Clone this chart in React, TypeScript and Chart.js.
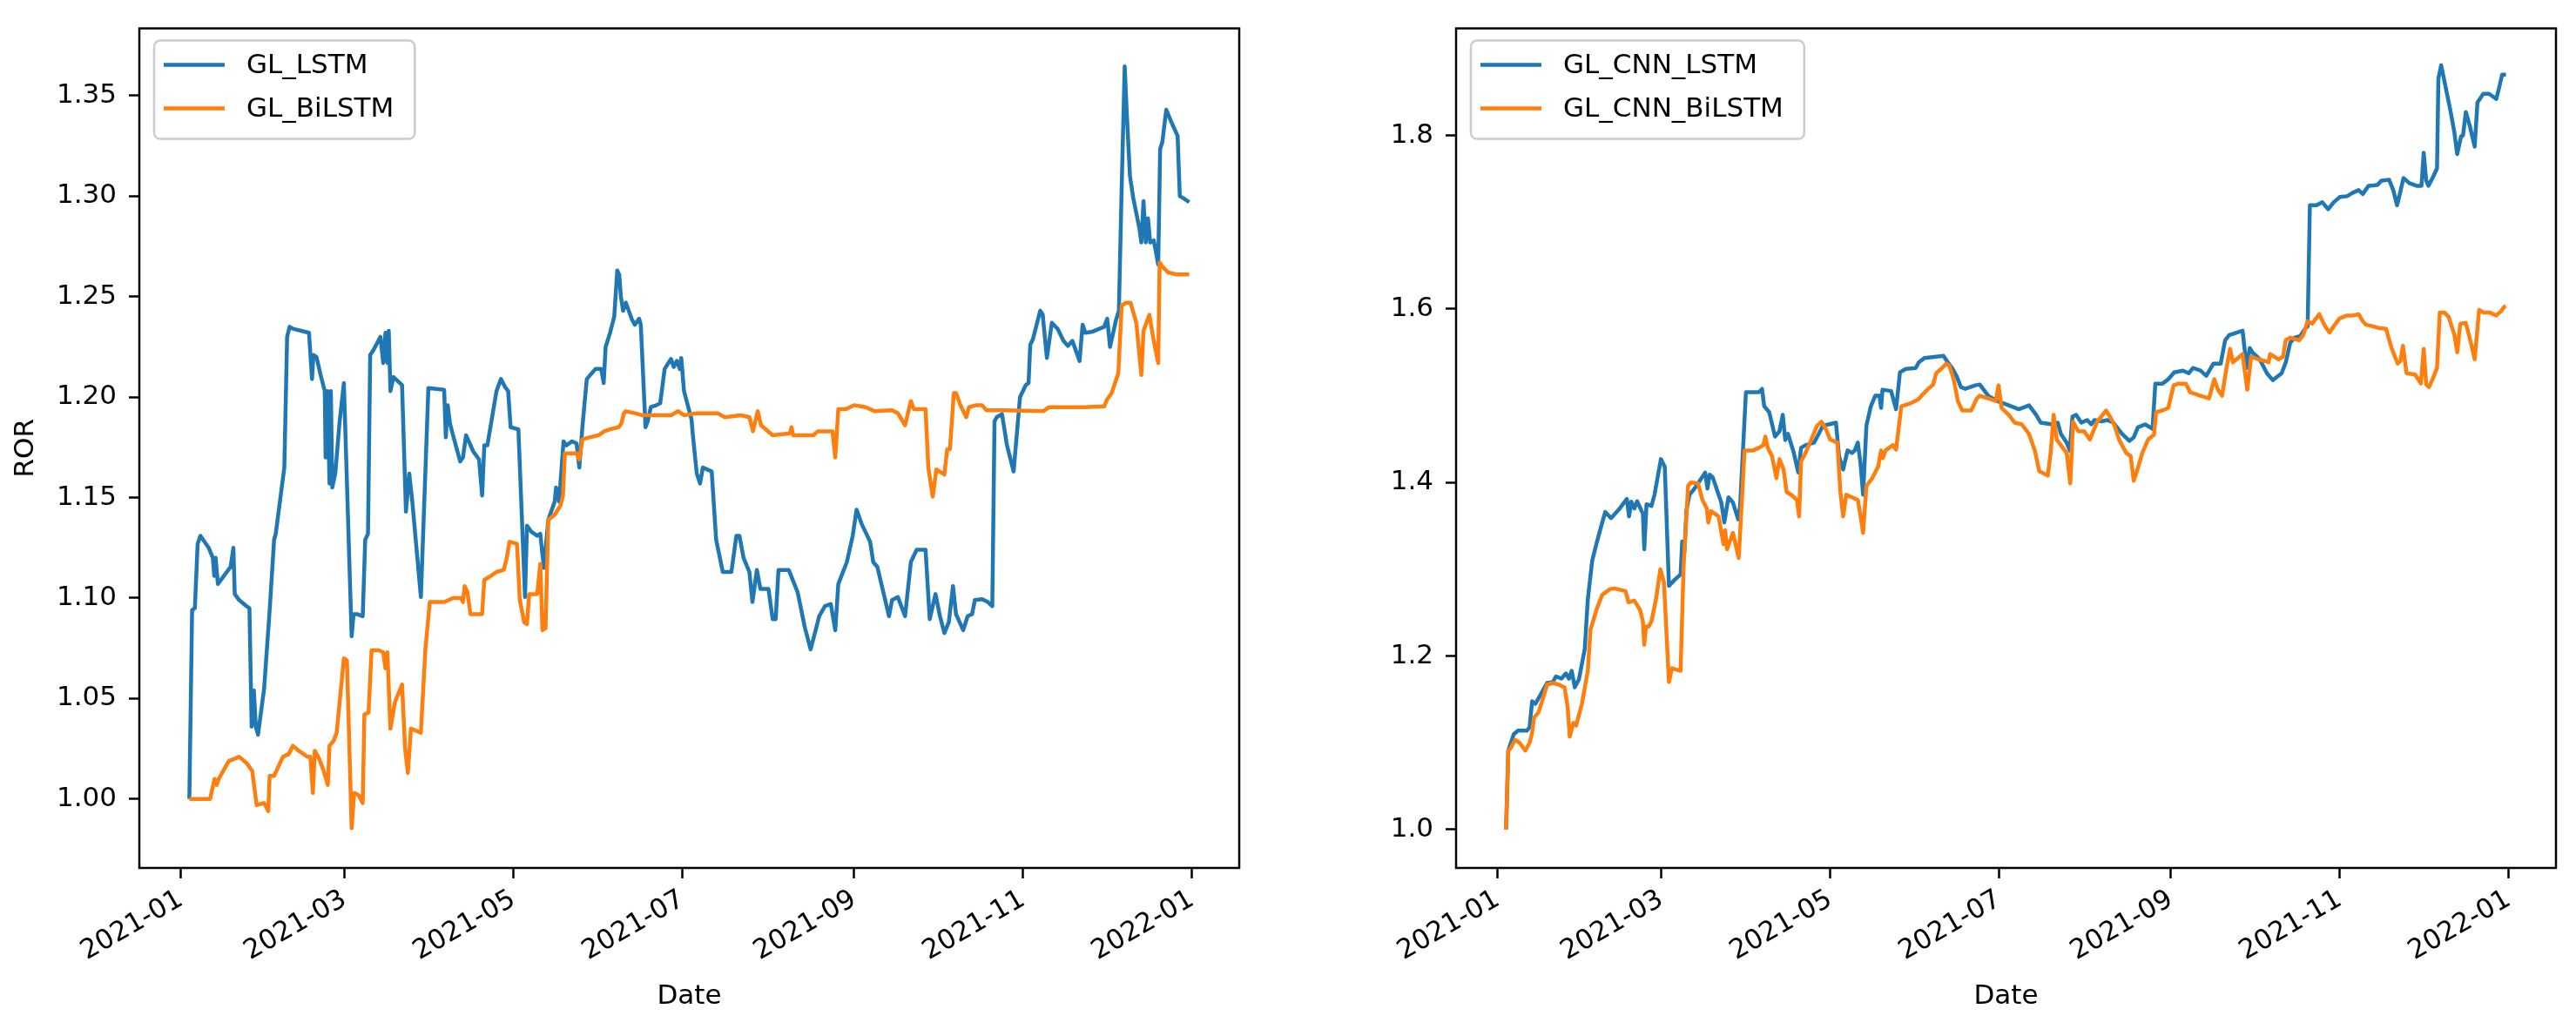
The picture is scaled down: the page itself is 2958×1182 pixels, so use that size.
import React, { useEffect, useRef } from "react";
import { Chart, registerables } from "chart.js";

Chart.register(...registerables);

// ---------- data (x = days since 2021-01-01) ----------
const xTickDays = [0, 59, 120, 181, 243, 304, 365];
const xTickLabels = ["2021-01", "2021-03", "2021-05", "2021-07", "2021-09", "2021-11", "2022-01"];

const leftYTicks = [1.0, 1.05, 1.1, 1.15, 1.2, 1.25, 1.3, 1.35];
const rightYTicks = [1.0, 1.2, 1.4, 1.6, 1.8];

const lstmDays = [3, 4, 5, 6, 7, 10, 11.5, 12, 12.5, 13.3, 17.9, 18.9, 19.4, 21, 23.6, 24.7, 25.5, 26.3, 27, 27.8, 30, 32, 33.6, 34.2, 37.3, 38.3, 39.2, 40.4, 46.2, 47.3, 47.8, 48.9, 50.4, 51.9, 52.2, 52.9, 53.6, 54.1, 54.6, 55.7, 57.2, 58.8, 61.6, 62.3, 63.5, 65.6, 66.5, 67.5, 68.3, 69.3, 72, 73, 73.8, 74.5, 75, 75.6, 76.7, 79.8, 81.2, 82.4, 83.5, 86.6, 89.3, 95, 95.6, 96.3, 97.1, 98.2, 100.8, 101.8, 102.9, 103.9, 105.5, 107.6, 108.7, 109.5, 110.6, 113.9, 115.5, 117, 118.1, 119, 121.8, 124.2, 124.9, 126.5, 128.6, 129.7, 131, 132.6, 134.9, 135.4, 136.5, 138.1, 139.1, 141.2, 142.8, 143.8, 144.9, 146.5, 149.6, 151.7, 152.6, 153.3, 154.9, 156.4, 157.5, 158.2, 158.8, 159.6, 160.6, 162.7, 163.8, 165.4, 166, 167.7, 168.5, 169.6, 171.7, 173, 174.6, 176.9, 177.9, 179, 180.1, 180.6, 181.6, 184.3, 184.8, 186.2, 187.4, 188.4, 191.6, 193.2, 195.6, 198.7, 200.5, 201.6, 203.1, 205.2, 206.3, 207.9, 209.2, 212.1, 213.6, 214.7, 215.7, 219.4, 222.6, 225.2, 227.3, 229.4, 230.4, 232.5, 234.6, 236.2, 237.3, 240.4, 242.5, 243.9, 245.7, 248.8, 249.9, 251.4, 255.6, 256.7, 258.8, 261.4, 263.5, 265.6, 268.8, 270.3, 272.4, 274, 275.6, 277.2, 278.7, 279.8, 282.4, 284, 285.6, 286.6, 289.2, 291.3, 292.9, 293.7, 294.5, 296.4, 298.2, 300.6, 302.9, 305, 306, 306.6, 307.6, 310.2, 311.1, 312.6, 314.4, 316.5, 318.6, 320.2, 321.8, 324.4, 325.5, 326.5, 329.1, 333.3, 334.4, 335.4, 337.5, 338.6, 339.6, 340.7, 341.5, 342.6, 343.8, 346, 346.7, 347.5, 348.3, 349.1, 349.9, 351.2, 352.8, 353.5, 354.3, 355.7, 357.5, 359.8, 360.6, 361.9, 364];
const lstmValues = [1.0, 1.094, 1.095, 1.127, 1.131, 1.125, 1.12, 1.111, 1.12, 1.107, 1.1155, 1.125, 1.102, 1.099, 1.096, 1.095, 1.036, 1.054, 1.036, 1.032, 1.055, 1.094, 1.129, 1.132, 1.165, 1.23, 1.235, 1.234, 1.232, 1.209, 1.221, 1.22, 1.211, 1.203, 1.17, 1.203, 1.157, 1.203, 1.155, 1.162, 1.187, 1.207, 1.081, 1.092, 1.092, 1.091, 1.129, 1.132, 1.221, 1.223, 1.23, 1.217, 1.232, 1.217, 1.233, 1.203, 1.21, 1.206, 1.143, 1.162, 1.148, 1.1005, 1.2045, 1.2036, 1.18, 1.196, 1.187, 1.181, 1.168, 1.17, 1.181, 1.178, 1.173, 1.169, 1.151, 1.176, 1.176, 1.203, 1.209, 1.205, 1.203, 1.185, 1.184, 1.1005, 1.136, 1.133, 1.131, 1.132, 1.115, 1.139, 1.148, 1.155, 1.148, 1.178, 1.176, 1.178, 1.177, 1.165, 1.185, 1.209, 1.214, 1.214, 1.207, 1.225, 1.232, 1.24, 1.263, 1.261, 1.25, 1.243, 1.247, 1.239, 1.236, 1.239, 1.236, 1.185, 1.188, 1.195, 1.196, 1.197, 1.214, 1.219, 1.215, 1.218, 1.214, 1.2195, 1.203, 1.189, 1.181, 1.162, 1.157, 1.165, 1.163, 1.129, 1.113, 1.113, 1.131, 1.131, 1.12, 1.113, 1.098, 1.114, 1.1045, 1.1045, 1.0895, 1.0895, 1.114, 1.114, 1.103, 1.0855, 1.0745, 1.0855, 1.091, 1.096, 1.097, 1.084, 1.107, 1.118, 1.131, 1.144, 1.137, 1.128, 1.118, 1.1155, 1.091, 1.099, 1.1005, 1.091, 1.118, 1.124, 1.124, 1.0895, 1.102, 1.091, 1.0826, 1.088, 1.106, 1.092, 1.084, 1.091, 1.092, 1.099, 1.0995, 1.098, 1.096, 1.188, 1.19, 1.1916, 1.176, 1.163, 1.2, 1.206, 1.207, 1.226, 1.229, 1.243, 1.241, 1.2195, 1.237, 1.234, 1.228, 1.2255, 1.228, 1.218, 1.236, 1.232, 1.2326, 1.235, 1.239, 1.225, 1.238, 1.243, 1.304, 1.3646, 1.34, 1.31, 1.299, 1.284, 1.277, 1.2975, 1.277, 1.289, 1.277, 1.278, 1.266, 1.3235, 1.327, 1.343, 1.337, 1.33, 1.3, 1.299, 1.297];

const bilstmDays = [3, 10.5, 12.1, 12.9, 13.6, 17.3, 18.4, 21, 23.6, 25.7, 27.3, 30, 31.5, 32, 33.6, 36.8, 38.9, 40.4, 42.5, 45.7, 46.7, 47.6, 48.3, 49.9, 51.5, 53, 53.6, 55.1, 56.2, 58.8, 59.9, 61.6, 62.5, 64.1, 65.6, 66.2, 67.7, 68.8, 71.4, 73, 73.8, 74.5, 75.6, 77.2, 79.8, 80.9, 81.9, 83, 86.6, 88.2, 89.8, 95, 96.6, 98.2, 101.1, 101.8, 102.4, 103.4, 104.5, 108.7, 109.5, 111.8, 113.9, 116.5, 117.6, 118.6, 121.3, 122.3, 123.9, 124.9, 125.7, 128.6, 129.7, 130.5, 131.6, 132.6, 134.9, 137, 137.9, 138.6, 142.8, 143.8, 144.9, 147.5, 150.7, 152.8, 154.9, 158, 159, 159.9, 160.6, 163.8, 166.4, 176.9, 179.5, 181.6, 186.3, 193.7, 196.3, 202.1, 205.2, 206.5, 208.2, 209.4, 213.6, 219.9, 220.4, 221, 228.3, 229.9, 235.2, 236.2, 237.3, 240, 243, 247.2, 250.4, 256.7, 258.8, 261.4, 263.5, 264.6, 268.8, 269.8, 271.4, 272.7, 275.6, 276.6, 277.6, 279, 279.8, 281.4, 283.5, 284.5, 287.1, 289.2, 290.8, 296.6, 311.3, 313.4, 326, 333.3, 334.4, 336, 338.4, 339.6, 341.2, 342.8, 344.9, 346.7, 347.5, 349.6, 351.2, 352.8, 353.3, 354.3, 356.4, 359.6, 364];
const bilstmValues = [1.0, 1.0, 1.01, 1.007, 1.01, 1.019, 1.0195, 1.021, 1.018, 1.014, 0.997, 0.998, 0.994, 1.0115, 1.0115, 1.021, 1.0224, 1.0265, 1.024, 1.021, 1.021, 1.003, 1.024, 1.02, 1.014, 1.007, 1.0265, 1.029, 1.033, 1.07, 1.069, 0.9855, 1.003, 1.002, 0.998, 1.042, 1.043, 1.074, 1.074, 1.073, 1.065, 1.073, 1.035, 1.048, 1.057, 1.025, 1.013, 1.035, 1.033, 1.074, 1.098, 1.098, 1.099, 1.1, 1.1, 1.098, 1.106, 1.103, 1.092, 1.092, 1.109, 1.111, 1.113, 1.114, 1.12, 1.128, 1.127, 1.099, 1.088, 1.087, 1.102, 1.102, 1.117, 1.084, 1.085, 1.139, 1.1415, 1.146, 1.151, 1.172, 1.172, 1.169, 1.179, 1.18, 1.181, 1.183, 1.184, 1.185, 1.187, 1.192, 1.193, 1.192, 1.191, 1.191, 1.193, 1.191, 1.192, 1.192, 1.19, 1.191, 1.19, 1.183, 1.193, 1.186, 1.181, 1.182, 1.185, 1.181, 1.181, 1.183, 1.183, 1.17, 1.194, 1.194, 1.196, 1.195, 1.193, 1.1935, 1.192, 1.186, 1.198, 1.194, 1.194, 1.165, 1.1505, 1.164, 1.1615, 1.174, 1.174, 1.202, 1.202, 1.196, 1.19, 1.195, 1.196, 1.196, 1.1935, 1.1935, 1.193, 1.195, 1.195, 1.1954, 1.199, 1.202, 1.212, 1.2455, 1.247, 1.247, 1.237, 1.211, 1.233, 1.241, 1.228, 1.217, 1.267, 1.265, 1.262, 1.261, 1.261];

const cnnLstmDays = [3, 3.8, 5.8, 7.3, 10.5, 11.5, 12.4, 13.6, 15.2, 17.8, 19.9, 21, 23, 24.6, 25.7, 26.7, 27.8, 29.3, 31.4, 32.5, 34.1, 35.6, 37.2, 38.8, 40.9, 44, 46.6, 47.4, 48.2, 49.3, 50.3, 52.4, 52.9, 53.7, 55.5, 56.6, 58.9, 60.3, 61.8, 63.9, 66, 66.6, 67.4, 68.1, 69.2, 70.8, 72.3, 74.9, 75.7, 76.5, 77.6, 79.1, 80.7, 81.8, 83.3, 84.9, 86.8, 87.5, 89.6, 94.3, 95.4, 96.2, 98, 100.1, 101.7, 102.9, 103.8, 104.8, 106.9, 108.5, 109.5, 111.1, 114.2, 117.4, 119.5, 122.1, 123.2, 124.7, 126.3, 127.9, 128.9, 130, 131, 131.9, 133.1, 134.7, 136.3, 137.8, 138.4, 138.9, 142, 143.8, 145.2, 147.3, 150.9, 152, 154.1, 158.3, 160.9, 162.5, 164, 165.6, 167.2, 168.8, 172.4, 174, 177.1, 180.3, 184.5, 188.1, 191.8, 194.4, 196, 200.2, 202.2, 203.3, 205.4, 206.5, 207.5, 208.8, 210.7, 212.8, 214.3, 215.4, 218, 220.1, 222.2, 225.4, 228, 229.6, 231.1, 233.7, 236.4, 237.4, 240, 242.1, 244.2, 247.4, 249.5, 251, 253.7, 255.8, 258.4, 261, 262.6, 264.1, 268.9, 270.4, 271.5, 272.5, 275.1, 277.7, 279.8, 283, 284.5, 286.1, 287.7, 289.8, 291.4, 292.4, 293.2, 295.6, 297.7, 299.8, 301.8, 304, 306.6, 308.7, 310.8, 312.3, 314.4, 317.6, 319.1, 321.8, 323.3, 324.7, 326, 327, 329.1, 331.7, 333.5, 334.3, 335.2, 336, 337.5, 339.1, 339.6, 340.6, 342.2, 343.8, 345.3, 346.4, 347.8, 348.5, 349.5, 350.9, 352.7, 353.7, 355.8, 357.9, 360.5, 361.6, 362.6, 364];
const cnnLstmValues = [1.0, 1.091, 1.11, 1.114, 1.114, 1.118, 1.148, 1.145, 1.154, 1.169, 1.17, 1.1765, 1.174, 1.18, 1.174, 1.183, 1.164, 1.173, 1.208, 1.265, 1.31, 1.329, 1.348, 1.366, 1.359, 1.37, 1.381, 1.361, 1.378, 1.37, 1.3785, 1.364, 1.323, 1.375, 1.373, 1.386, 1.427, 1.418, 1.281, 1.288, 1.294, 1.332, 1.32, 1.367, 1.386, 1.392, 1.399, 1.4115, 1.393, 1.409, 1.406, 1.392, 1.377, 1.354, 1.383, 1.377, 1.3575, 1.373, 1.504, 1.504, 1.508, 1.488, 1.481, 1.453, 1.459, 1.478, 1.449, 1.456, 1.434, 1.4115, 1.44, 1.443, 1.446, 1.4655, 1.467, 1.469, 1.4305, 1.415, 1.437, 1.434, 1.437, 1.446, 1.421, 1.386, 1.4655, 1.488, 1.5, 1.5, 1.486, 1.507, 1.5055, 1.4845, 1.527, 1.531, 1.532, 1.5385, 1.5436, 1.545, 1.546, 1.5385, 1.532, 1.523, 1.51, 1.508, 1.512, 1.513, 1.5, 1.494, 1.489, 1.4845, 1.489, 1.478, 1.469, 1.467, 1.469, 1.456, 1.446, 1.437, 1.476, 1.478, 1.469, 1.472, 1.467, 1.472, 1.4705, 1.472, 1.469, 1.456, 1.448, 1.452, 1.4636, 1.467, 1.462, 1.514, 1.514, 1.519, 1.527, 1.529, 1.526, 1.532, 1.529, 1.523, 1.537, 1.537, 1.564, 1.57, 1.575, 1.532, 1.555, 1.55, 1.542, 1.526, 1.518, 1.526, 1.5385, 1.561, 1.567, 1.569, 1.577, 1.58, 1.7195, 1.7195, 1.723, 1.715, 1.723, 1.729, 1.73, 1.734, 1.737, 1.7325, 1.742, 1.743, 1.748, 1.749, 1.737, 1.7195, 1.737, 1.751, 1.745, 1.742, 1.742, 1.78, 1.748, 1.742, 1.751, 1.762, 1.8655, 1.881, 1.856, 1.831, 1.805, 1.7785, 1.799, 1.8, 1.827, 1.8115, 1.787, 1.838, 1.848, 1.848, 1.842, 1.856, 1.87, 1.87];

const cnnBilstmDays = [3, 3.8, 4.7, 6.3, 7.9, 9.95, 11.5, 12.3, 13.1, 14.7, 16.2, 17.8, 19.9, 22, 24.1, 25.2, 26, 27.3, 28.3, 30.4, 32.5, 33.5, 35.6, 37.7, 40.4, 42, 46.1, 47.2, 49.3, 51.4, 52.4, 52.9, 53.5, 54.5, 55.5, 57.1, 58.7, 60, 61.8, 62.9, 66, 67.1, 68.7, 69.7, 72.3, 73.9, 75.5, 76, 77, 79.7, 81.5, 82.1, 82.8, 84.9, 87, 89.1, 92.2, 94.3, 95.9, 96.6, 97.5, 99, 100.6, 101.7, 103.2, 104.3, 105.9, 108, 108.8, 109.5, 111.1, 113.2, 115.3, 116.9, 118.4, 120, 122.6, 123.7, 124.7, 125.8, 127.9, 130, 131, 131.9, 133.1, 135.2, 137.3, 138.4, 139, 140, 142.6, 143.8, 145.7, 148.8, 151.5, 153, 155.1, 157.2, 158.3, 160.4, 162, 163, 164.6, 166.1, 167.7, 170.9, 173, 174, 177.1, 179.8, 180.8, 181.9, 184.5, 186.6, 189.2, 191.8, 193.9, 195.5, 198.6, 199.7, 200.7, 201.8, 203.3, 205.4, 206.7, 207.7, 209.6, 211.7, 213.8, 216.4, 219.6, 221.2, 222.7, 224.3, 226.9, 228.5, 229.6, 230.6, 232.7, 234.8, 236.9, 237.7, 240, 242.1, 244, 245.8, 248.4, 250, 253.7, 256.8, 258.7, 260, 261.5, 263.1, 264.4, 265.4, 268.9, 270.6, 272, 274.6, 277, 278.3, 278.8, 281.9, 283.5, 284.5, 286.1, 289.3, 290.8, 292.4, 294, 296.6, 298.7, 300.3, 301.8, 303.9, 306.6, 308.7, 310.8, 312.3, 313.4, 316, 318.1, 320.7, 322.8, 324.9, 325.9, 326.8, 328.1, 331.2, 333.3, 334.3, 335.2, 336.2, 337.5, 339.1, 340.1, 341.7, 343.3, 345.4, 346.4, 347.5, 349.5, 351.1, 352.7, 354.3, 355.8, 358, 360.5, 362.1, 363.2, 364];
const cnnBilstmValues = [1.0, 1.091, 1.094, 1.1035, 1.1, 1.091, 1.1, 1.11, 1.129, 1.135, 1.15, 1.167, 1.169, 1.167, 1.164, 1.142, 1.107, 1.123, 1.12, 1.145, 1.183, 1.2305, 1.253, 1.2705, 1.277, 1.278, 1.275, 1.262, 1.264, 1.253, 1.24, 1.213, 1.234, 1.234, 1.24, 1.265, 1.3, 1.285, 1.17, 1.186, 1.183, 1.3035, 1.396, 1.4, 1.399, 1.38, 1.37, 1.354, 1.367, 1.361, 1.329, 1.345, 1.323, 1.342, 1.313, 1.437, 1.437, 1.44, 1.443, 1.453, 1.44, 1.4305, 1.405, 1.427, 1.415, 1.389, 1.386, 1.38, 1.361, 1.424, 1.434, 1.4496, 1.4655, 1.47, 1.462, 1.4496, 1.446, 1.389, 1.361, 1.386, 1.383, 1.38, 1.361, 1.342, 1.396, 1.405, 1.418, 1.437, 1.428, 1.437, 1.443, 1.438, 1.488, 1.491, 1.495, 1.5, 1.507, 1.513, 1.526, 1.532, 1.537, 1.535, 1.519, 1.494, 1.483, 1.483, 1.497, 1.5, 1.497, 1.494, 1.512, 1.486, 1.478, 1.469, 1.467, 1.456, 1.437, 1.413, 1.408, 1.437, 1.478, 1.4496, 1.443, 1.434, 1.399, 1.47, 1.459, 1.459, 1.4496, 1.47, 1.483, 1.475, 1.4655, 1.4496, 1.434, 1.4305, 1.402, 1.4115, 1.434, 1.4496, 1.455, 1.481, 1.483, 1.486, 1.512, 1.514, 1.514, 1.504, 1.5, 1.497, 1.519, 1.507, 1.5, 1.532, 1.554, 1.5385, 1.548, 1.507, 1.545, 1.542, 1.54, 1.5385, 1.548, 1.542, 1.545, 1.564, 1.567, 1.564, 1.57, 1.586, 1.583, 1.594, 1.58, 1.573, 1.58, 1.589, 1.5925, 1.5925, 1.594, 1.586, 1.582, 1.58, 1.578, 1.577, 1.554, 1.537, 1.54, 1.5575, 1.526, 1.5245, 1.514, 1.554, 1.513, 1.51, 1.519, 1.532, 1.596, 1.596, 1.591, 1.57, 1.55, 1.583, 1.584, 1.564, 1.542, 1.599, 1.596, 1.596, 1.5925, 1.597, 1.602, 1.603];

// ---------- styling ----------
const FONT_FAMILY = "'DejaVu Sans', sans-serif";
const FONT_SIZE = 31;
const BLUE = "#1f77b4";
const ORANGE = "#ff7f0e";
const CANVAS_H = 1182;

const toPoints = (xs: number[], ys: number[]) => xs.map((x, i) => ({ x, y: ys[i] }));

const framePlugin = {
  id: "frame",
  afterDatasetsDraw(chart: any) {
    const { ctx, chartArea: a } = chart;
    ctx.save();
    ctx.strokeStyle = "#000";
    ctx.lineWidth = 2.5;
    ctx.strokeRect(a.left, a.top, a.right - a.left, a.bottom - a.top);
    ctx.restore();
  },
};

const boxLegendPlugin = {
  id: "boxLegend",
  afterDraw(chart: any) {
    const { ctx, chartArea: a } = chart;
    const ds = chart.data.datasets;
    ctx.save();
    ctx.font = `${FONT_SIZE}px ${FONT_FAMILY}`;
    let maxW = 0;
    ds.forEach((d: any) => (maxW = Math.max(maxW, ctx.measureText(d.label).width)));
    const bx = a.left + 17;
    const by = a.top + 14;
    const bw = 106 + maxW + 24;
    const bh = 113;
    const r = 7;
    ctx.beginPath();
    ctx.moveTo(bx + r, by);
    ctx.lineTo(bx + bw - r, by);
    ctx.arcTo(bx + bw, by, bx + bw, by + r, r);
    ctx.lineTo(bx + bw, by + bh - r);
    ctx.arcTo(bx + bw, by + bh, bx + bw - r, by + bh, r);
    ctx.lineTo(bx + r, by + bh);
    ctx.arcTo(bx, by + bh, bx, by + bh - r, r);
    ctx.lineTo(bx, by + r);
    ctx.arcTo(bx, by, bx + r, by, r);
    ctx.closePath();
    ctx.fillStyle = "rgba(255,255,255,0.8)";
    ctx.fill();
    ctx.strokeStyle = "#cccccc";
    ctx.lineWidth = 2.5;
    ctx.stroke();
    ds.forEach((d: any, i: number) => {
      const y = by + 28 + i * 50;
      ctx.beginPath();
      ctx.strokeStyle = d.borderColor;
      ctx.lineWidth = 4.5;
      ctx.lineCap = "butt";
      ctx.moveTo(bx + 11, y);
      ctx.lineTo(bx + 81, y);
      ctx.stroke();
      ctx.fillStyle = "#000";
      ctx.textBaseline = "middle";
      ctx.textAlign = "left";
      ctx.fillText(d.label, bx + 106, y + 1);
    });
    ctx.restore();
  },
};

interface PanelProps {
  left: number;
  width: number;
  yAxisWidth: number;
  padRight: number;
  yMin: number;
  yMax: number;
  yTicks: number[];
  yDecimals: number;
  yTitle: string | null;
  labels: [string, string];
  series: [number[], number[], number[], number[]];
}

function Panel(p: PanelProps) {
  const ref = useRef<HTMLCanvasElement>(null);
  useEffect(() => {
    const font = { family: FONT_FAMILY, size: FONT_SIZE };
    const grid = {
      display: true,
      drawOnChartArea: false,
      drawTicks: true,
      tickLength: 12,
      tickWidth: 2.5,
      tickColor: "#000",
    };
    const chart = new Chart(ref.current as HTMLCanvasElement, {
      type: "line",
      data: {
        datasets: [
          {
            label: p.labels[0],
            data: toPoints(p.series[0], p.series[1]),
            borderColor: BLUE,
            backgroundColor: BLUE,
            borderWidth: 4.5,
            pointRadius: 0,
            tension: 0,
            borderJoinStyle: "round",
            order: 1,
          },
          {
            label: p.labels[1],
            data: toPoints(p.series[2], p.series[3]),
            borderColor: ORANGE,
            backgroundColor: ORANGE,
            borderWidth: 4.5,
            pointRadius: 0,
            tension: 0,
            borderJoinStyle: "round",
            order: 0,
          },
        ],
      },
      options: {
        animation: false,
        responsive: false,
        devicePixelRatio: 1,
        layout: { padding: { top: 25, right: p.padRight, bottom: 0, left: 0 } },
        plugins: { legend: { display: false }, tooltip: { enabled: false } },
        scales: {
          x: {
            type: "linear",
            min: -15.05,
            max: 382.05,
            afterBuildTicks: (s: any) => {
              s.ticks = xTickDays.map((v) => ({ value: v }));
            },
            afterFit: (s: any) => {
              s.height = 185;
            },
            ticks: {
              autoSkip: false,
              minRotation: 30,
              maxRotation: 30,
              padding: 6,
              color: "#000",
              font,
              callback: (v: any) => {
                const i = xTickDays.indexOf(Number(v));
                return i >= 0 ? xTickLabels[i] : "";
              },
            },
            grid,
            border: { display: false },
            title: {
              display: true,
              text: "Date",
              color: "#000",
              font,
              padding: { top: 0, bottom: 18 },
            },
          },
          y: {
            type: "linear",
            min: p.yMin,
            max: p.yMax,
            afterBuildTicks: (s: any) => {
              s.ticks = p.yTicks.map((v) => ({ value: v }));
            },
            afterFit: (s: any) => {
              s.width = p.yAxisWidth;
            },
            ticks: {
              padding: 14,
              color: "#000",
              font,
              callback: (v: any) => Number(v).toFixed(p.yDecimals),
            },
            grid,
            border: { display: false },
            title: {
              display: !!p.yTitle,
              text: p.yTitle || "",
              color: "#000",
              font,
              padding: { top: 11, bottom: 0 },
            },
          },
        },
      } as any,
      plugins: [framePlugin, boxLegendPlugin],
    });
    return () => chart.destroy();
  }, []);
  return (
    <canvas
      ref={ref}
      width={p.width}
      height={CANVAS_H}
      style={{ position: "absolute", left: p.left, top: 0, width: p.width, height: CANVAS_H }}
    />
  );
}

export default function App() {
  return (
    <div style={{ position: "absolute", left: 0, top: 0, width: 2958, height: CANVAS_H, background: "#fff", overflow: "hidden" }}>
      <Panel
        left={0}
        width={1480}
        yAxisWidth={160}
        padRight={57}
        yMin={0.9657}
        yMax={1.3835}
        yTicks={leftYTicks}
        yDecimals={2}
        yTitle="ROR"
        labels={["GL_LSTM", "GL_BiLSTM"]}
        series={[lstmDays, lstmValues, bilstmDays, bilstmValues]}
      />
      <Panel
        left={1480}
        width={1478}
        yAxisWidth={192}
        padRight={23}
        yMin={0.9558}
        yMax={1.9234}
        yTicks={rightYTicks}
        yDecimals={1}
        yTitle={null}
        labels={["GL_CNN_LSTM", "GL_CNN_BiLSTM"]}
        series={[cnnLstmDays, cnnLstmValues, cnnBilstmDays, cnnBilstmValues]}
      />
    </div>
  );
}
